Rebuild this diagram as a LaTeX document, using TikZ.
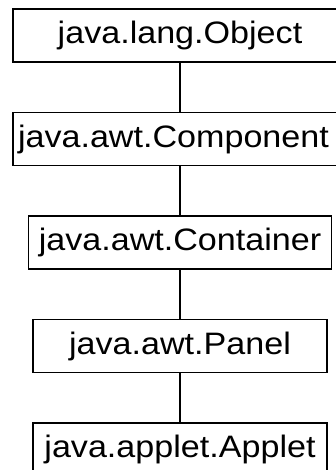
\documentclass[tikz,border=0pt]{standalone}
\usepackage{fontspec}
\setmainfont{Liberation Sans}[FakeStretch=1.1]
\usepackage{tikz}
\usetikzlibrary{positioning}

\tikzset{classbox/.style={draw, line width=1.5pt, minimum height=53pt,
                          inner sep=0pt, font=\fontsize{31}{36}\selectfont}}

\begin{document}
\begin{tikzpicture}[node distance=49pt]
\useasboundingbox (0,0) rectangle (336pt,-470pt);
%\SetVertexNormal
\node[classbox, minimum width=334pt] (Obj) at (180pt,-35.5pt) {java.lang.Object};
\node[classbox, minimum width=334pt, text width=324pt, align=left,
      below=of Obj] (Comp) {java.awt.Component};
\node[classbox, minimum width=303pt, below=of Comp] (Cont) {java.awt.Container};
\node[classbox, minimum width=294pt, below=of Cont] (Pan) {java.awt.Panel};
\node[classbox, minimum width=294pt, below=of Pan] (App) {java.applet.Applet};
\foreach \u/\v in {Obj/Comp, Comp/Cont, Cont/Pan, Pan/App}
  \draw[line width=1.5pt] (\u) -- (\v);
\end{tikzpicture}
\end{document}
